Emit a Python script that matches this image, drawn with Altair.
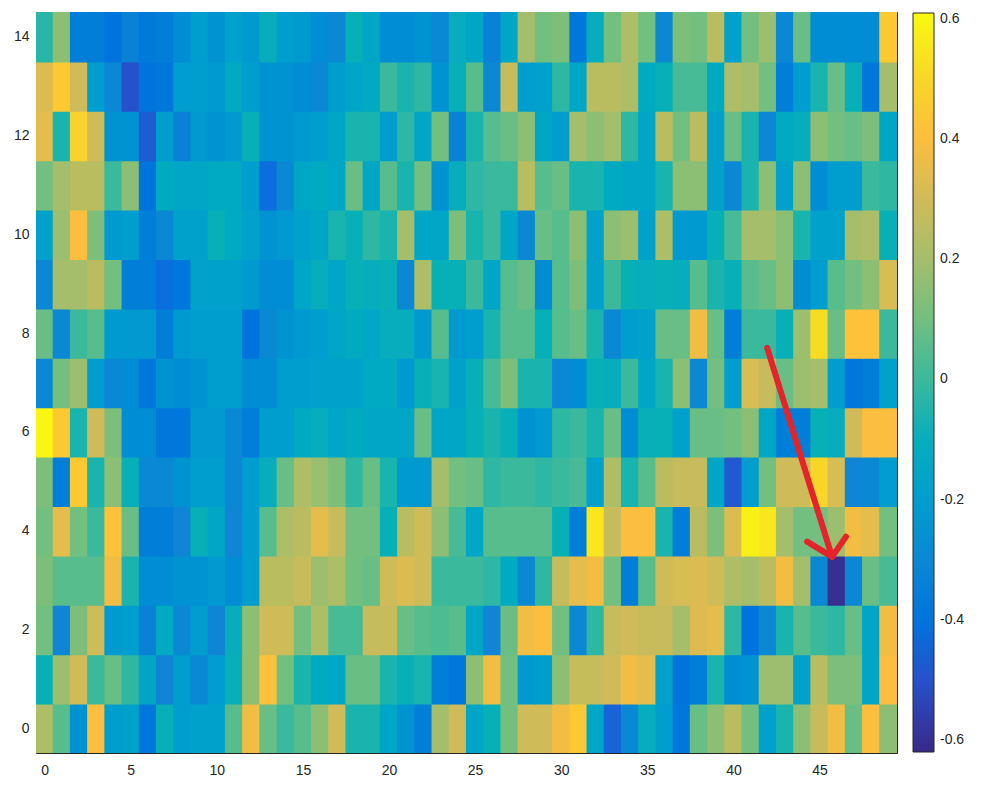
import altair as alt
import pandas as pd

# Heat-map values, one list per row (row index 0 = bottom), columns 0..49
row_14 = [-0.03, 0.15, -0.35, -0.35, -0.4, -0.33, -0.37, -0.35, -0.28, -0.2, -0.25, -0.18, -0.22, -0.1, -0.2, -0.22, -0.28,
          -0.3, -0.08, -0.15, -0.28, -0.28, -0.25, -0.3, -0.1, -0.15, -0.33, -0.15, 0.2, 0.1, 0.12, -0.38, -0.1, 0.1,
          0.22, 0.1, -0.3, 0.12, 0.1, 0.25, -0.18, 0.1, 0.18, -0.3, 0.08, -0.28, -0.28, -0.28, -0.28, 0.45]
row_13 = [0.33, 0.45, 0.3, -0.2, -0.3, -0.5, -0.4, -0.38, -0.2, -0.2, -0.22, -0.12, -0.2, -0.25, -0.25, -0.28, -0.3,
          -0.2, -0.15, -0.12, 0.0, -0.05, -0.02, -0.25, -0.08, 0.05, -0.3, 0.28, -0.2, -0.18, -0.02, -0.15, 0.25, 0.25,
          0.22, -0.12, -0.08, 0.02, 0.02, -0.12, 0.22, 0.2, 0.1, -0.35, -0.2, -0.05, 0.08, -0.08, -0.38, 0.2]
row_12 = [0.35, -0.05, 0.48, 0.3, -0.25, -0.25, -0.47, -0.2, -0.33, -0.22, -0.25, -0.22, -0.08, -0.25, -0.25, -0.22, -0.2,
          -0.15, -0.05, -0.05, -0.2, -0.02, -0.15, 0.1, -0.33, -0.05, 0.05, 0.08, 0.15, -0.15, -0.2, 0.2, 0.15, 0.2,
          -0.02, -0.15, 0.25, 0.1, 0.25, -0.18, 0.08, -0.05, -0.3, -0.12, -0.1, 0.15, 0.1, 0.08, 0.12, -0.15]
row_11 = [0.1, 0.2, 0.25, 0.25, 0.0, 0.15, -0.4, -0.12, -0.15, -0.15, -0.12, -0.12, -0.2, -0.42, -0.3, -0.15, -0.12,
          -0.15, 0.08, -0.15, 0.05, -0.05, 0.1, -0.25, -0.1, -0.02, 0.0, 0.0, 0.25, 0.05, 0.08, -0.05, -0.05, -0.12,
          -0.15, -0.15, -0.05, 0.15, 0.15, -0.18, -0.3, -0.05, 0.15, -0.18, 0.15, -0.28, -0.2, -0.2, 0.0, -0.02]
row_10 = [-0.18, 0.18, 0.4, 0.12, -0.22, -0.2, -0.35, -0.3, -0.18, -0.18, -0.08, -0.12, -0.18, -0.25, -0.22, -0.18, -0.15,
          -0.05, -0.08, -0.02, -0.05, 0.2, -0.15, -0.15, 0.12, -0.05, 0.0, -0.15, -0.3, 0.08, 0.05, 0.15, -0.18, 0.15,
          0.18, -0.18, 0.22, -0.22, -0.22, -0.08, 0.02, 0.2, 0.2, 0.15, -0.05, -0.18, -0.18, 0.2, 0.22, -0.08]
row_9 = [-0.3, 0.2, 0.2, 0.25, 0.1, -0.35, -0.35, -0.42, -0.38, -0.18, -0.18, -0.18, -0.22, -0.28, -0.28, -0.15, -0.1,
         -0.15, -0.08, -0.1, -0.08, -0.3, 0.22, -0.08, -0.08, 0.0, -0.15, 0.05, 0.08, -0.28, 0.05, 0.12, -0.18, 0.0,
         -0.08, -0.1, -0.08, -0.1, 0.05, -0.05, -0.08, 0.05, 0.08, 0.15, -0.28, -0.2, 0.05, 0.1, 0.15, 0.32]
row_8 = [0.08, -0.3, 0.0, 0.05, -0.22, -0.22, -0.22, -0.35, -0.22, -0.2, -0.2, -0.2, -0.4, -0.3, -0.25, -0.22, -0.2,
         -0.15, -0.12, -0.15, -0.1, -0.1, -0.22, 0.05, -0.22, -0.2, -0.05, 0.05, 0.05, -0.08, 0.05, 0.08, -0.05, -0.3,
         -0.2, -0.18, 0.08, 0.08, 0.38, 0.08, -0.35, 0.0, 0.0, -0.08, 0.18, 0.52, 0.08, 0.42, 0.42, 0.0]
row_7 = [-0.3, 0.1, 0.18, -0.2, -0.3, -0.28, -0.38, -0.25, -0.28, -0.25, -0.2, -0.2, -0.28, -0.28, -0.2, -0.2, -0.18,
         -0.18, -0.18, -0.12, -0.12, -0.22, -0.08, -0.05, -0.18, -0.08, 0.02, 0.12, -0.05, -0.05, -0.3, -0.28, -0.08, -0.1,
         0.0, -0.15, -0.05, 0.15, -0.3, 0.1, -0.2, 0.32, 0.28, 0.08, 0.18, 0.2, -0.2, -0.38, -0.35, -0.18]
row_6 = [0.6, 0.45, -0.05, 0.3, 0.12, -0.28, -0.28, -0.38, -0.38, -0.22, -0.22, -0.3, -0.35, -0.2, -0.2, -0.12, -0.1,
         -0.15, -0.12, -0.15, -0.15, -0.15, 0.08, -0.15, -0.15, -0.08, -0.05, -0.08, -0.25, -0.22, -0.02, 0.0, -0.05, 0.08,
         -0.28, -0.08, -0.08, -0.18, 0.08, 0.08, 0.1, 0.15, -0.15, -0.35, -0.35, -0.08, -0.1, 0.3, 0.4, 0.4]
row_5 = [0.12, -0.35, 0.45, -0.05, 0.15, -0.08, -0.3, -0.3, -0.25, -0.2, -0.2, -0.3, -0.2, -0.1, 0.08, 0.22, 0.18,
         0.12, -0.02, 0.08, -0.05, -0.22, -0.22, 0.2, 0.1, 0.08, -0.02, 0.0, 0.0, -0.02, 0.0, 0.02, -0.18, 0.22,
         -0.05, 0.05, 0.25, 0.28, 0.28, -0.15, -0.48, -0.2, 0.1, 0.3, 0.3, 0.5, 0.32, -0.32, -0.3, -0.2]
row_4 = [0.1, 0.35, 0.1, 0.0, 0.42, 0.08, -0.35, -0.35, -0.32, -0.08, -0.15, -0.32, -0.2, 0.05, 0.22, 0.25, 0.35,
         0.28, 0.1, 0.1, -0.08, 0.25, 0.3, 0.15, 0.02, -0.15, 0.05, 0.05, 0.05, 0.05, -0.08, -0.35, 0.55, 0.28,
         0.4, 0.4, -0.05, -0.35, 0.25, 0.12, 0.33, 0.58, 0.55, 0.2, 0.1, 0.1, 0.18, 0.38, 0.35, 0.1]
row_3 = [0.12, 0.05, 0.05, 0.05, 0.38, -0.05, -0.28, -0.28, -0.25, -0.25, -0.22, -0.28, -0.2, 0.25, 0.25, 0.28, 0.18,
         0.22, 0.1, 0.08, 0.3, 0.33, 0.3, 0.0, 0.0, 0.0, -0.02, -0.12, -0.3, -0.02, 0.28, 0.35, 0.38, 0.1,
         -0.35, 0.05, 0.3, 0.32, 0.33, 0.3, 0.22, 0.2, 0.25, 0.38, 0.2, -0.3, -0.6, -0.3, 0.08, 0.02]
row_2 = [0.1, -0.32, 0.12, 0.3, -0.22, -0.2, -0.33, -0.12, -0.3, -0.2, -0.32, -0.1, 0.15, 0.3, 0.3, 0.1, 0.22,
         0.02, 0.02, 0.28, 0.28, 0.08, 0.05, 0.03, 0.05, -0.15, -0.32, 0.08, 0.38, 0.4, 0.1, -0.3, -0.02, 0.28,
         0.3, 0.28, 0.28, 0.2, 0.33, 0.35, -0.02, -0.4, -0.3, -0.05, 0.05, 0.0, -0.02, 0.08, -0.15, 0.38]
row_1 = [-0.08, 0.18, 0.3, 0.0, 0.08, -0.02, -0.15, -0.32, -0.2, -0.3, -0.2, -0.08, 0.15, 0.42, 0.1, -0.05, -0.12,
         -0.15, 0.08, 0.08, -0.05, -0.08, -0.05, -0.35, -0.38, 0.15, 0.38, 0.1, -0.22, -0.2, 0.15, 0.28, 0.28, 0.3,
         0.38, 0.35, -0.18, -0.4, -0.35, -0.05, -0.28, -0.25, 0.18, 0.18, -0.18, 0.25, 0.12, 0.12, -0.15, 0.4]
row_0 = [0.22, 0.05, -0.25, 0.4, -0.2, -0.18, -0.38, -0.08, -0.2, -0.18, -0.18, 0.05, 0.38, 0.08, 0.0, 0.05, 0.15,
         0.3, -0.05, -0.05, -0.15, -0.25, -0.35, 0.2, 0.3, -0.15, -0.08, 0.1, 0.3, 0.3, 0.38, 0.45, -0.15, -0.45,
         -0.3, -0.1, -0.2, -0.38, 0.08, 0.15, 0.25, 0.1, -0.18, -0.05, 0.15, 0.28, 0.38, 0.08, 0.4, 0.15]

rows = [row_0, row_1, row_2, row_3, row_4, row_5, row_6, row_7,
        row_8, row_9, row_10, row_11, row_12, row_13, row_14]

x_ticks = [0, 5, 10, 15, 20, 25, 30, 35, 40, 45]
y_ticks = [0, 2, 4, 6, 8, 10, 12, 14]
cbar_ticks = [-0.6, -0.4, -0.2, 0, 0.2, 0.4, 0.6]

# parula colormap stops
parula = ["#352a87", "#2c4ac7", "#0871de", "#1485d4", "#079ccf", "#0aacbe", "#38b99e",
          "#71bf80", "#a5be6b", "#d1bb59", "#fdbe3d", "#f7d826", "#f9fb0e"]
cmin, cmax = -0.62, 0.61
color_domain = [round(cmin + i * (cmax - cmin) / (len(parula) - 1), 4) for i in range(len(parula))]

# red annotation arrow (data coordinates): shaft + two head strokes
arrow_x1 = [41.96, 45.73, 45.73]
arrow_y1 = [7.70, 3.47, 3.47]
arrow_x2 = [45.73, 44.28, 46.54]
arrow_y2 = [3.47, 3.78, 3.88]

records = []
for r, vals in enumerate(rows):
    for c, v in enumerate(vals):
        records.append({"col": c, "row": r, "value": v})
df = pd.DataFrame(records)
arrow_df = pd.DataFrame({"x1": arrow_x1, "y1": arrow_y1, "x2": arrow_x2, "y2": arrow_y2})

FONT = "Liberation Sans"
TXT = "#262626"

xscale = alt.Scale(domain=[-0.5, 49.5], nice=False, zero=False)
yscale = alt.Scale(domain=[-0.5, 14.5], nice=False, zero=False)
cscale = alt.Scale(type="linear", domain=color_domain, range=parula, clamp=True)

# cells overlap very slightly so no anti-aliasing seams show between them
heat = alt.Chart(df).transform_calculate(
    x0="datum.col - 0.53", x1="datum.col + 0.53",
    y0="datum.row - 0.52", y1="datum.row + 0.52",
).mark_rect(clip=True).encode(
    x=alt.X("x0:Q", scale=xscale,
            axis=alt.Axis(values=x_ticks, title=None, grid=False, domain=False, ticks=False,
                          labelPadding=10, labelFontSize=14, labelFont=FONT, labelColor=TXT)),
    x2="x1:Q",
    y=alt.Y("y0:Q", scale=yscale,
            axis=alt.Axis(values=y_ticks, title=None, grid=False, domain=False, ticks=False,
                          labelPadding=7, labelFontSize=14, labelFont=FONT, labelColor=TXT)),
    y2="y1:Q",
    color=alt.Color("value:Q", scale=cscale,
                    legend=alt.Legend(type="gradient", orient="none", legendX=877, legendY=1, title=None,
                                      direction="vertical", gradientLength=739, gradientThickness=21,
                                      values=cbar_ticks, labelFontSize=14, labelFont=FONT,
                                      labelColor=TXT, labelOffset=6, padding=0,
                                      gradientStrokeColor=TXT, gradientStrokeWidth=1,
                                      labelExpr="toString(round(datum.value*10)/10)")),
)

arrow = alt.Chart(arrow_df).mark_rule(color="#e5232b", strokeWidth=6, strokeCap="round").encode(
    x=alt.X("x1:Q", scale=xscale), y=alt.Y("y1:Q", scale=yscale),
    x2="x2:Q", y2="y2:Q",
)

chart = alt.layer(heat, arrow).properties(
    width=861, height=741, autosize="none",
    padding={"left": 28, "top": 4, "right": 75, "bottom": 25},
    background="white",
).configure_view(stroke=TXT, strokeWidth=1)

chart.save("out.html", embed_options={"renderer": "svg", "actions": False})
